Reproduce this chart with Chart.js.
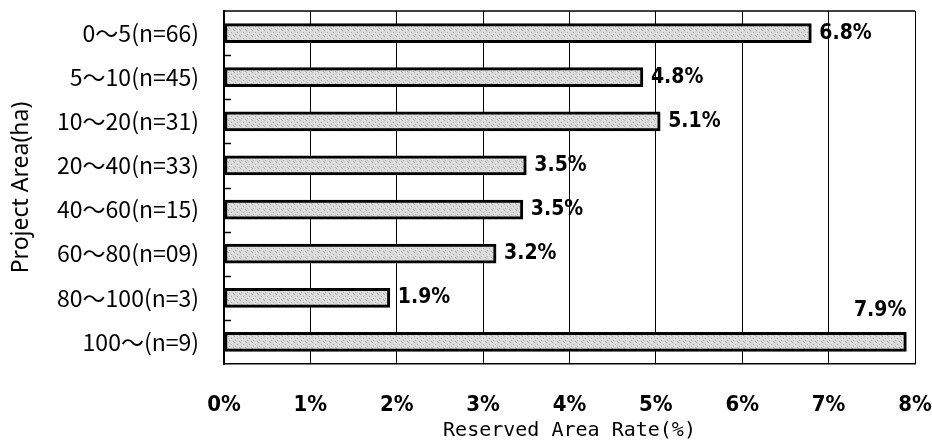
<!DOCTYPE html>
<html lang="en">
  <head>
    <meta charset="UTF-8" />
    <title>Reserved Area Rate by Project Area</title>
  </head>
  <style>
    * {
      margin: 0;
      padding: 0;
    }
    body {
      background: white;
    }
    .chartBox {
      width: 932px;
      height: 448px;
    }
  </style>
  <body>
    <div class="chartBox">
      <canvas id="myChart"></canvas>
    </div>

    <script src="https://cdn.jsdelivr.net/npm/chart.js"></script>

    <script>
      // data block
      const categories = [
        "0～5(n=66)",
        "5～10(n=45)",
        "10～20(n=31)",
        "20～40(n=33)",
        "40～60(n=15)",
        "60～80(n=09)",
        "80～100(n=3)",
        "100～(n=9)"
      ];
      const rates = [6.8, 4.85, 5.05, 3.5, 3.46, 3.15, 1.92, 7.9];
      const rateLabels = ["6.8%", "4.8%", "5.1%", "3.5%", "3.5%", "3.2%", "1.9%", "7.9%"];
      const xTicks = [0, 1, 2, 3, 4, 5, 6, 7, 8];

      // stippled gray fill for the bars
      function makePattern() {
        const c = document.createElement("canvas");
        c.width = 6;
        c.height = 6;
        const p = c.getContext("2d");
        p.fillStyle = "#dadada";
        p.fillRect(0, 0, 6, 6);
        p.fillStyle = "#a9a9a9";
        p.fillRect(0, 0, 1, 1);
        p.fillRect(3, 2, 1, 1);
        p.fillRect(1, 4, 1, 1);
        p.fillRect(5, 5, 1, 1);
        p.fillStyle = "#f2f2f2";
        p.fillRect(4, 0, 1, 1);
        p.fillRect(2, 3, 1, 1);
        return p.createPattern(c, "repeat");
      }

      // frame on top + small inward ticks between categories
      const frameTicks = {
        id: "frameTicks",
        afterDraw(chart) {
          const { ctx, chartArea: { top, bottom, left, right } } = chart;
          const y = chart.scales.y;
          ctx.save();
          ctx.strokeStyle = "#000";
          ctx.lineWidth = 1.5;
          ctx.beginPath();
          ctx.moveTo(left, top);
          ctx.lineTo(right, top);
          ctx.stroke();
          for (let i = 0; i < categories.length - 1; i++) {
            const yy = Math.round((y.getPixelForValue(i) + y.getPixelForValue(i + 1)) / 2) + 0.5;
            ctx.beginPath();
            ctx.moveTo(left, yy);
            ctx.lineTo(left + 7, yy);
            ctx.stroke();
          }
          ctx.restore();
        }
      };

      // value labels at the bar ends
      const valueLabels = {
        id: "valueLabels",
        afterDatasetsDraw(chart) {
          const { ctx } = chart;
          const meta = chart.getDatasetMeta(0);
          ctx.save();
          ctx.fillStyle = "#000";
          ctx.font = "bold 21px 'Liberation Sans Narrow', 'DejaVu Sans Condensed', sans-serif";
          ctx.textBaseline = "middle";
          meta.data.forEach((bar, i) => {
            if (i === meta.data.length - 1) {
              ctx.textAlign = "right";
              ctx.fillText(rateLabels[i], bar.x, bar.y - 31);
            } else {
              ctx.textAlign = "left";
              ctx.fillText(rateLabels[i], bar.x + 8, bar.y);
            }
          });
          ctx.restore();
        }
      };

      // config block
      const config = {
        type: "bar",
        data: {
          labels: categories,
          datasets: [
            {
              data: rates,
              backgroundColor: makePattern(),
              borderColor: "#000",
              borderWidth: 3,
              borderSkipped: false,
              barThickness: 19
            }
          ]
        },
        options: {
          indexAxis: "y",
          responsive: true,
          maintainAspectRatio: false,
          animation: false,
          layout: { padding: { top: 11, right: 17, left: 0, bottom: 0 } },
          plugins: {
            legend: { display: false },
            tooltip: { enabled: false }
          },
          scales: {
            x: {
              min: 0,
              max: 8,
              afterBuildTicks: (s) => {
                s.ticks = xTicks.map((v) => ({ value: v }));
              },
              afterFit: (s) => {
                s.height = 84;
                s.paddingLeft = 0;
                s.paddingRight = 0;
              },
              grid: { color: "#000", lineWidth: 1, drawTicks: false },
              border: { color: "#000", width: 1.5 },
              ticks: {
                color: "#000",
                padding: 28,
                maxRotation: 0,
                font: { family: "'Liberation Sans Narrow', 'DejaVu Sans Condensed', sans-serif", size: 22, weight: "bold" },
                callback: (v) => v + "%"
              },
              title: {
                display: true,
                text: "Reserved Area Rate(%)",
                color: "#000",
                padding: { top: 0, bottom: 5 },
                font: { family: "'DejaVu Sans Mono', monospace", size: 20 }
              }
            },
            y: {
              afterFit: (s) => {
                s.width = 224;
                s.paddingTop = 0;
                s.paddingBottom = 0;
              },
              grid: { display: false },
              border: { color: "#000", width: 2 },
              ticks: {
                color: "#000",
                padding: 17,
                font: { family: "'Noto Sans CJK JP', sans-serif", size: 23 }
              },
              title: {
                display: true,
                text: "Project Area(ha)",
                color: "#000",
                padding: { top: 8, bottom: 0 },
                font: { family: "'Noto Sans', sans-serif", size: 23 }
              }
            }
          }
        },
        plugins: [frameTicks, valueLabels]
      };

      // init render block
      const myChart = new Chart(document.getElementById("myChart"), config);
    </script>
  </body>
</html>
